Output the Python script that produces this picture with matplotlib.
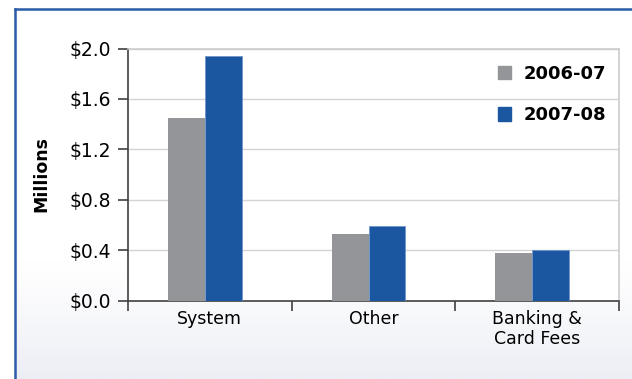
import numpy as np
import matplotlib.pyplot as plt
from matplotlib.patches import Patch
from matplotlib.colors import to_rgb

categories = ["System", "Other", "Banking &\nCard Fees"]
fy0607 = [1.45, 0.53, 0.38]
fy0708 = [1.94, 0.59, 0.40]
series_labels = ["2006-07", "2007-08"]
yticks = [0.0, 0.4, 0.8, 1.2, 1.6, 2.0]

gray = "#939598"
blue = "#1b56a0"

plt.rcParams['font.family'] = ['DejaVu Sans']

fig = plt.figure(figsize=(6.32, 3.79), dpi=100)

# background panel with a soft gradient towards the bottom
bg = fig.add_axes([15 / 632, 0, 1 - 15 / 632, 1 - 9 / 379])
bg.set_axis_off()
t = np.linspace(0, 1, 200)[:, None]
w = np.clip((t - 0.68) / 0.32, 0, 1) ** 1.2
top_c = np.array(to_rgb("#ffffff"))
bot_c = np.array(to_rgb("#eceef5"))
grad = top_c[None, None, :] * (1 - w[..., None]) + bot_c[None, None, :] * w[..., None]
bg.imshow(grad, aspect="auto", extent=[0, 1, 0, 1], origin="upper")
bg.set_xlim(0, 1)
bg.set_ylim(0, 1)

# blue frame on left and top
fig.add_artist(plt.Line2D([15 / 632, 15 / 632], [0, 1 - 9 / 379], color="#2a5ca8", lw=1.8))
fig.add_artist(plt.Line2D([15 / 632, 1], [1 - 9 / 379, 1 - 9 / 379], color="#2a5ca8", lw=1.8))

ax = fig.add_axes([128 / 632, 1 - 300.5 / 379, (619 - 128) / 632, (300.5 - 48.5) / 379])
ax.set_facecolor("white")

x = np.arange(len(categories))
bw = 0.225
ax.bar(x - bw / 2 - 0.03, fy0607, bw, color=gray, zorder=3)
ax.bar(x + bw / 2 - 0.03, fy0708, bw, color=blue, edgecolor="#6f95c8", linewidth=0.6, zorder=3)

ax.set_xlim(-0.5, 2.5)
ax.set_ylim(0, 2.0)
ax.set_yticks(yticks)
ax.set_yticklabels(["${:.1f}".format(v) for v in yticks], fontsize=13.5)
ax.yaxis.grid(True, color="#d4d4d4", lw=1.0, zorder=0)
ax.set_axisbelow(True)

ax.set_xticks(x)
ax.set_xticklabels(categories, fontsize=12.5, linespacing=1.15)
ax.tick_params(axis="x", length=0, pad=7)
ax.set_xticks([-0.5, 0.5, 1.5, 2.5], minor=True)
ax.tick_params(axis="x", which="minor", length=7, width=1.2, color="#404040", direction="out")
ax.tick_params(axis="y", length=7, width=1.2, color="#404040", direction="out", pad=5)

for s in ["left", "bottom"]:
    ax.spines[s].set_color("#404040")
    ax.spines[s].set_linewidth(1.2)
for s in ["top", "right"]:
    ax.spines[s].set_color("#cccccc")
    ax.spines[s].set_linewidth(1.2)

ax.set_ylabel("Millions", fontsize=12.5, fontweight="bold", labelpad=14)

handles = [Patch(color=gray), Patch(color=blue)]
ax.legend(handles, series_labels, loc="upper left", bbox_to_anchor=(0.72, 1.0),
          frameon=False, handlelength=0.75, handleheight=0.75, handletextpad=0.7,
          labelspacing=1.3, prop={"weight": "bold", "size": 13})

fig.savefig("out.png", dpi=100)
